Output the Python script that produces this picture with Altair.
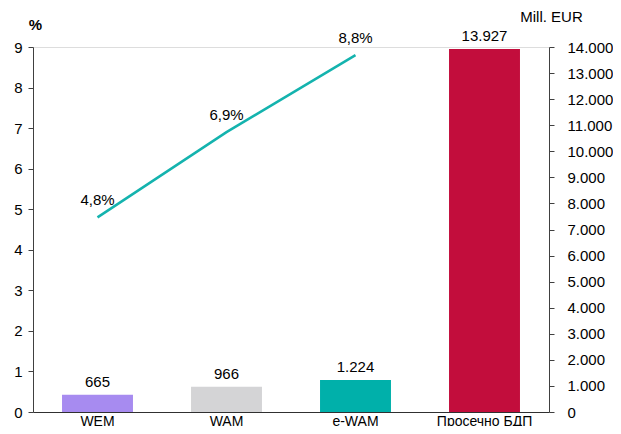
import altair as alt
import pandas as pd

categories = ["WEM", "WAM", "e-WAM", "Просечно  БДП"]
amounts = [665, 966, 1224, 13927]          # Mill. EUR (right axis)
bar_colors = ["#A78BF0", "#D4D4D6", "#00B0AA", "#C20D3C"]
line_cats = ["WEM", "WAM", "e-WAM"]
shares = [4.8, 6.9, 8.8]                    # % (left axis)

FONT = "Liberation Sans"
FS = 15

bars_df = pd.DataFrame({
    "cat": categories,
    "amount": amounts,
    "color": bar_colors,
    "label": [f"{v:,}".replace(",", ".") for v in amounts],
})
line_df = pd.DataFrame({
    "cat": line_cats,
    "share": shares,
    "label": [f"{v:.1f}%".replace(".", ",") for v in shares],
})

x = alt.X("cat:N", sort=categories,
          scale=alt.Scale(paddingInner=0.45, paddingOuter=0.225),
          axis=alt.Axis(title=None, labelAngle=0, ticks=False, domainColor="#303030",
                        labelFontSize=14, labelPadding=2, labelColor="#000",
                        labelFont=FONT))

y_right = alt.Y("amount:Q",
                scale=alt.Scale(domain=[0, 14000], nice=False),
                axis=alt.Axis(orient="right", values=list(range(0, 14001, 1000)),
                              labelExpr="replace(format(datum.value, ',d'), ',', '.')",
                              labelOverlap=False,
                              grid=False, domainColor="#404040", tickColor="#404040",
                              tickSize=5, labelPadding=13, labelFontSize=FS,
                              labelColor="#000", labelFont=FONT,
                              title="Mill. EUR", titleAngle=0, titleX=2, titleY=-31,
                              titleAlign="center", titleBaseline="middle",
                              titleFontSize=FS, titleFontWeight="normal",
                              titleFont=FONT, titleColor="#000"))

bars = alt.Chart(bars_df).mark_bar().encode(
    x=x, y=y_right,
    color=alt.Color("color:N", scale=None),
)
bar_text = alt.Chart(bars_df).mark_text(
    baseline="bottom", dy=-5, fontSize=FS, font=FONT, color="#000"
).encode(x=x, y=y_right, text="label:N")

right_layer = alt.layer(bars, bar_text)

y_left = alt.Y("share:Q",
               scale=alt.Scale(domain=[0, 9], nice=False),
               axis=alt.Axis(orient="left", values=list(range(0, 10)),
                             labelOverlap=False,
                             grid=False, domainColor="#404040", tickColor="#404040",
                             tickSize=5, labelPadding=6, labelFontSize=FS,
                             labelColor="#000", labelFont=FONT,
                             title="%", titleAngle=0, titleX=2, titleY=-23,
                             titleAlign="center", titleBaseline="middle",
                             titleFontSize=FS, titleFontWeight="bold",
                             titleFont=FONT, titleColor="#000"))

line = alt.Chart(line_df).mark_line(color="#14B3AE", strokeWidth=2.5).encode(
    x=x, y=y_left
)
line_text = alt.Chart(line_df).mark_text(
    baseline="bottom", dy=-9, fontSize=FS, font=FONT, color="#000"
).encode(x=x, y=y_left, text="label:N")

left_layer = alt.layer(line, line_text)

chart = alt.layer(right_layer, left_layer).resolve_scale(y="independent").properties(
    width=516, height=365,
    autosize=alt.AutoSizeParams(type="none"),
    padding={"left": 25, "top": 39, "right": 64, "bottom": 14},
).configure_view(stroke=None).configure(background="white")

chart.save("out.html", embed_options={"renderer": "svg", "actions": False})
